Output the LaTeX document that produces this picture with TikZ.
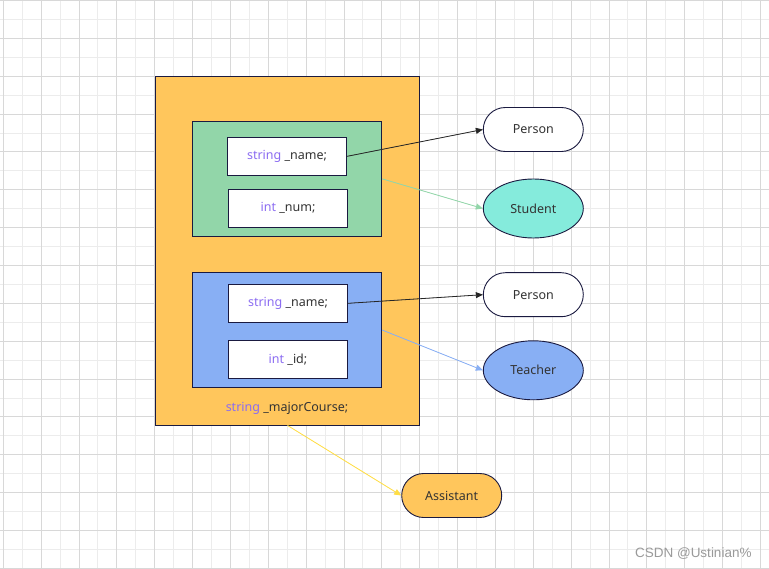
\documentclass[tikz,border=0pt]{standalone}
\usepackage{fontspec}
\setmainfont{Noto Sans}
\newfontfamily\wmfont{Liberation Sans}
\usetikzlibrary{arrows.meta,shapes.geometric,shapes.misc}
\definecolor{gridmin}{HTML}{ECECEC}
\definecolor{gridmaj}{HTML}{D8D8D8}
\definecolor{bord}{HTML}{1A1A40}
\definecolor{orangef}{HTML}{FFC65C}
\definecolor{greenf}{HTML}{92D6A9}
\definecolor{bluef}{HTML}{88AFF4}
\definecolor{turq}{HTML}{85EBDC}
\definecolor{kw}{HTML}{8B6CF2}
\definecolor{txt}{HTML}{333333}
\definecolor{yel}{HTML}{FFDE45}
\definecolor{wm}{HTML}{9A9A9A}
\tikzset{
  box/.style={draw=bord, line width=0.9pt, rectangle, inner sep=0pt, anchor=center},
  field/.style={box, fill=white, minimum width=119.5pt, minimum height=38pt, font=\fontsize{12.5}{14}\selectfont, text=txt},
  pill/.style={draw=bord, line width=0.9pt, rounded rectangle, minimum width=100pt, minimum height=44pt, inner sep=0pt, font=\fontsize{12.5}{14}\selectfont, text=txt},
  oval/.style={draw=bord, line width=0.9pt, ellipse, minimum width=100pt, minimum height=59pt, inner sep=0pt, font=\fontsize{12.5}{14}\selectfont, text=txt},
  conn/.style={line width=0.8pt, -{Triangle[length=7pt,width=6pt]}},
}
\begin{document}
\begin{tikzpicture}[x=1pt,y=-1pt]
\useasboundingbox (0,0) rectangle (769,569);
\fill[white] (0,0) rectangle (769,569);
% grid
\foreach \k in {1,3,...,41} {\draw[gridmin, line width=1pt] ({3.3+\k*18.93},0) -- ({3.3+\k*18.93},569);}
\foreach \k in {1,3,...,31} {\draw[gridmin, line width=1pt] (0,{0.5+\k*18.93}) -- (769,{0.5+\k*18.93});}
\foreach \k in {0,2,...,40} {\draw[gridmaj, line width=1pt] ({3.3+\k*18.93},0) -- ({3.3+\k*18.93},569);}
\foreach \k in {0,2,...,30} {\draw[gridmaj, line width=1pt] (0,{0.5+\k*18.93}) -- (769,{0.5+\k*18.93});}
% boxes
\node[box, fill=orangef, minimum width=263.6pt, minimum height=348.7pt] (outer) at (287.5,250.65) {};
\node[box, fill=greenf, minimum width=189.4pt, minimum height=114.3pt] (green) at (287,178.85) {};
\node[box, fill=bluef, minimum width=189.4pt, minimum height=114.6pt] (blue) at (287,330) {};
\node[field] (f1) at (287,156.3) {\textcolor{kw}{string} \_name;};
\node[field] (f2) at (288,208.2) {\textcolor{kw}{int} \_num;};
\node[field] (f3) at (288,303.3) {\textcolor{kw}{string} \_name;};
\node[field] (f4) at (288,359.3) {\textcolor{kw}{int} \_id;};
\node[font=\fontsize{12.5}{14}\selectfont, text=txt] (major) at (287,408.3) {\textcolor{kw}{string} \_majorCourse;};
% right nodes
\node[pill, fill=white] (p1) at (533.3,129.5) {Person};
\node[oval, fill=turq] (stu) at (533.3,208.5) {Student};
\node[pill, fill=white] (p2) at (533.3,294.7) {Person};
\node[oval, fill=bluef] (tea) at (533.3,370.3) {Teacher};
\node[pill, fill=orangef] (asst) at (451.7,495.5) {Assistant};
% connectors
\draw[conn, draw=black!85, fill=black!85] (f1.east) -- (p1.west);
\draw[conn, draw=greenf, fill=greenf] (green.east) -- (stu.west);
\draw[conn, draw=black!85, fill=black!85] (f3.east) -- (p2.west);
\draw[conn, draw=bluef, fill=bluef] (blue.east) -- (tea.west);
\draw[conn, draw=yel, fill=yel] (outer.south) -- (asst.west);
% watermark
\node[font=\wmfont\fontsize{13.5}{15}\selectfont, text=wm] (wmk) at (693.3,553.3) {CSDN @Ustinian\%};
\end{tikzpicture}
\end{document}
